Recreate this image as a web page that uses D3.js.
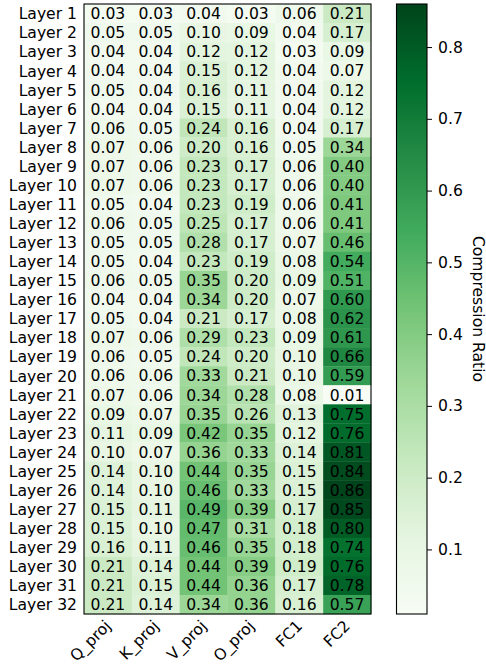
<!DOCTYPE html>
<html>
<head>
<meta charset="utf-8">
<script src="https://cdn.jsdelivr.net/npm/d3@7"></script>
<style>
  body { margin: 0; background: #fff; }
  text { font-family: "DejaVu Sans", sans-serif; fill: #000; }
</style>
</head>
<body>
<div id="chart"></div>
<script>
// columns and rows
const modules = ["Q_proj", "K_proj", "V_proj", "O_proj", "FC1", "FC2"];
const layers = d3.range(1, 33).map(i => "Layer " + i);

// compression ratio per module, layer 1..32
const qProj = [0.03,0.05,0.04,0.04,0.05,0.04,0.06,0.07,0.07,0.07,0.05,0.06,0.05,0.05,0.06,0.04,0.05,0.07,0.06,0.06,0.07,0.09,0.11,0.10,0.14,0.14,0.15,0.15,0.16,0.21,0.21,0.21];
const kProj = [0.03,0.05,0.04,0.04,0.04,0.04,0.05,0.06,0.06,0.06,0.04,0.05,0.05,0.04,0.05,0.04,0.04,0.06,0.05,0.06,0.06,0.07,0.09,0.07,0.10,0.10,0.11,0.10,0.11,0.14,0.15,0.14];
const vProj = [0.04,0.10,0.12,0.15,0.16,0.15,0.24,0.20,0.23,0.23,0.23,0.25,0.28,0.23,0.35,0.34,0.21,0.29,0.24,0.33,0.34,0.35,0.42,0.36,0.44,0.46,0.49,0.47,0.46,0.44,0.44,0.34];
const oProj = [0.03,0.09,0.12,0.12,0.11,0.11,0.16,0.16,0.17,0.17,0.19,0.17,0.17,0.19,0.20,0.20,0.17,0.23,0.20,0.21,0.28,0.26,0.35,0.33,0.35,0.33,0.39,0.31,0.35,0.39,0.36,0.36];
const fc1 = [0.06,0.04,0.03,0.04,0.04,0.04,0.04,0.05,0.06,0.06,0.06,0.06,0.07,0.08,0.09,0.07,0.08,0.09,0.10,0.10,0.08,0.13,0.12,0.14,0.15,0.15,0.17,0.18,0.18,0.19,0.17,0.16];
const fc2 = [0.21,0.17,0.09,0.07,0.12,0.12,0.17,0.34,0.40,0.40,0.41,0.41,0.46,0.54,0.51,0.60,0.62,0.61,0.66,0.59,0.01,0.75,0.76,0.81,0.84,0.86,0.85,0.80,0.74,0.76,0.78,0.57];

const cbTicks = [0.1, 0.2, 0.3, 0.4, 0.5, 0.6, 0.7, 0.8];

// matplotlib "Greens"
const greens = ["#f7fcf5","#e5f5e0","#c7e9c0","#a1d99b","#74c476","#41ab5d","#238b45","#006d2c","#00441b"];

const series = [qProj, kProj, vProj, oProj, fc1, fc2];
let cells = [];
series.forEach((s, c) => {
    s.forEach((v, r) => cells.push({col: modules[c], row: layers[r], value: v}));
});

const width = 486, height = 668;
const mLeft = 84, mRight = 371, mTop = 4, mBottom = 614;

const svg = d3.select("#chart").append("svg")
    .attr("width", width)
    .attr("height", height);

const xScale = d3.scaleBand().domain(modules).range([mLeft, mRight]);
const yScale = d3.scaleBand().domain(layers).range([mTop, mBottom]);

const ext = d3.extent(cells, d => d.value);
const colorScale = d3.scaleLinear()
    .domain(d3.range(9).map(i => ext[0] + (ext[1] - ext[0]) * i / 8))
    .range(greens)
    .clamp(true);

// cells
svg.append("g").selectAll("rect")
    .data(cells)
    .enter().append("rect")
    .attr("x", d => xScale(d.col))
    .attr("y", d => yScale(d.row))
    .attr("width", xScale.bandwidth() + 0.3)
    .attr("height", yScale.bandwidth() + 0.3)
    .attr("fill", d => colorScale(d.value));

// annotations
svg.append("g").selectAll("text")
    .data(cells)
    .enter().append("text")
    .attr("x", d => xScale(d.col) + xScale.bandwidth() / 2)
    .attr("y", d => yScale(d.row) + yScale.bandwidth() / 2)
    .attr("dy", "0.37em")
    .attr("text-anchor", "middle")
    .style("font-size", "15.6px")
    .text(d => d.value.toFixed(2));

svg.append("rect")
    .attr("x", mLeft).attr("y", mTop)
    .attr("width", mRight - mLeft).attr("height", mBottom - mTop)
    .attr("fill", "none").attr("stroke", "#000").attr("stroke-width", 1.1);

// y labels
let yAxis = svg.append("g")
    .attr("transform", "translate(" + mLeft + ",0)")
    .call(d3.axisLeft(yScale).tickSize(0).tickPadding(7));
yAxis.select(".domain").remove();
yAxis.selectAll("text")
    .attr("dy", "0.37em")
    .style("font-size", "15.6px")
    .style("font-family", "DejaVu Sans");

// x labels
let xAxis = svg.append("g")
    .attr("transform", "translate(0," + mBottom + ")")
    .call(d3.axisBottom(xScale).tickSize(0).tickPadding(0));
xAxis.select(".domain").remove();
xAxis.selectAll("text")
    .attr("text-anchor", "end")
    .attr("dy", "0")
    .attr("y", 0)
    .attr("transform", "translate(4,13) rotate(-45)")
    .style("font-size", "15.6px")
    .style("font-family", "DejaVu Sans");

// colorbar
const cbLeft = 396.5, cbRight = 427;
const cbScale = d3.scaleLinear().domain(ext).range([mBottom, mTop]);

let defs = svg.append("defs");
let grad = defs.append("linearGradient")
    .attr("id", "cbgrad")
    .attr("x1", 0).attr("y1", 1).attr("x2", 0).attr("y2", 0);
grad.selectAll("stop")
    .data(greens)
    .enter().append("stop")
    .attr("offset", (d, i) => (i / 8 * 100) + "%")
    .attr("stop-color", d => d);

svg.append("rect")
    .attr("x", cbLeft).attr("y", mTop)
    .attr("width", cbRight - cbLeft).attr("height", mBottom - mTop)
    .attr("fill", "url(#cbgrad)")
    .attr("stroke", "#000").attr("stroke-width", 1.1);

let cbAxis = svg.append("g")
    .attr("transform", "translate(" + cbRight + ",0)")
    .call(d3.axisRight(cbScale).tickValues(cbTicks).tickSize(5).tickPadding(6).tickFormat(d3.format(".1f")));
cbAxis.select(".domain").remove();
cbAxis.selectAll("text")
    .style("font-size", "15.6px")
    .style("font-family", "DejaVu Sans");

svg.append("text")
    .attr("transform", "translate(472.5," + ((mTop + mBottom) / 2) + ") rotate(90)")
    .attr("text-anchor", "middle")
    .style("font-size", "15.6px")
    .text("Compression Ratio");
</script>
</body>
</html>
